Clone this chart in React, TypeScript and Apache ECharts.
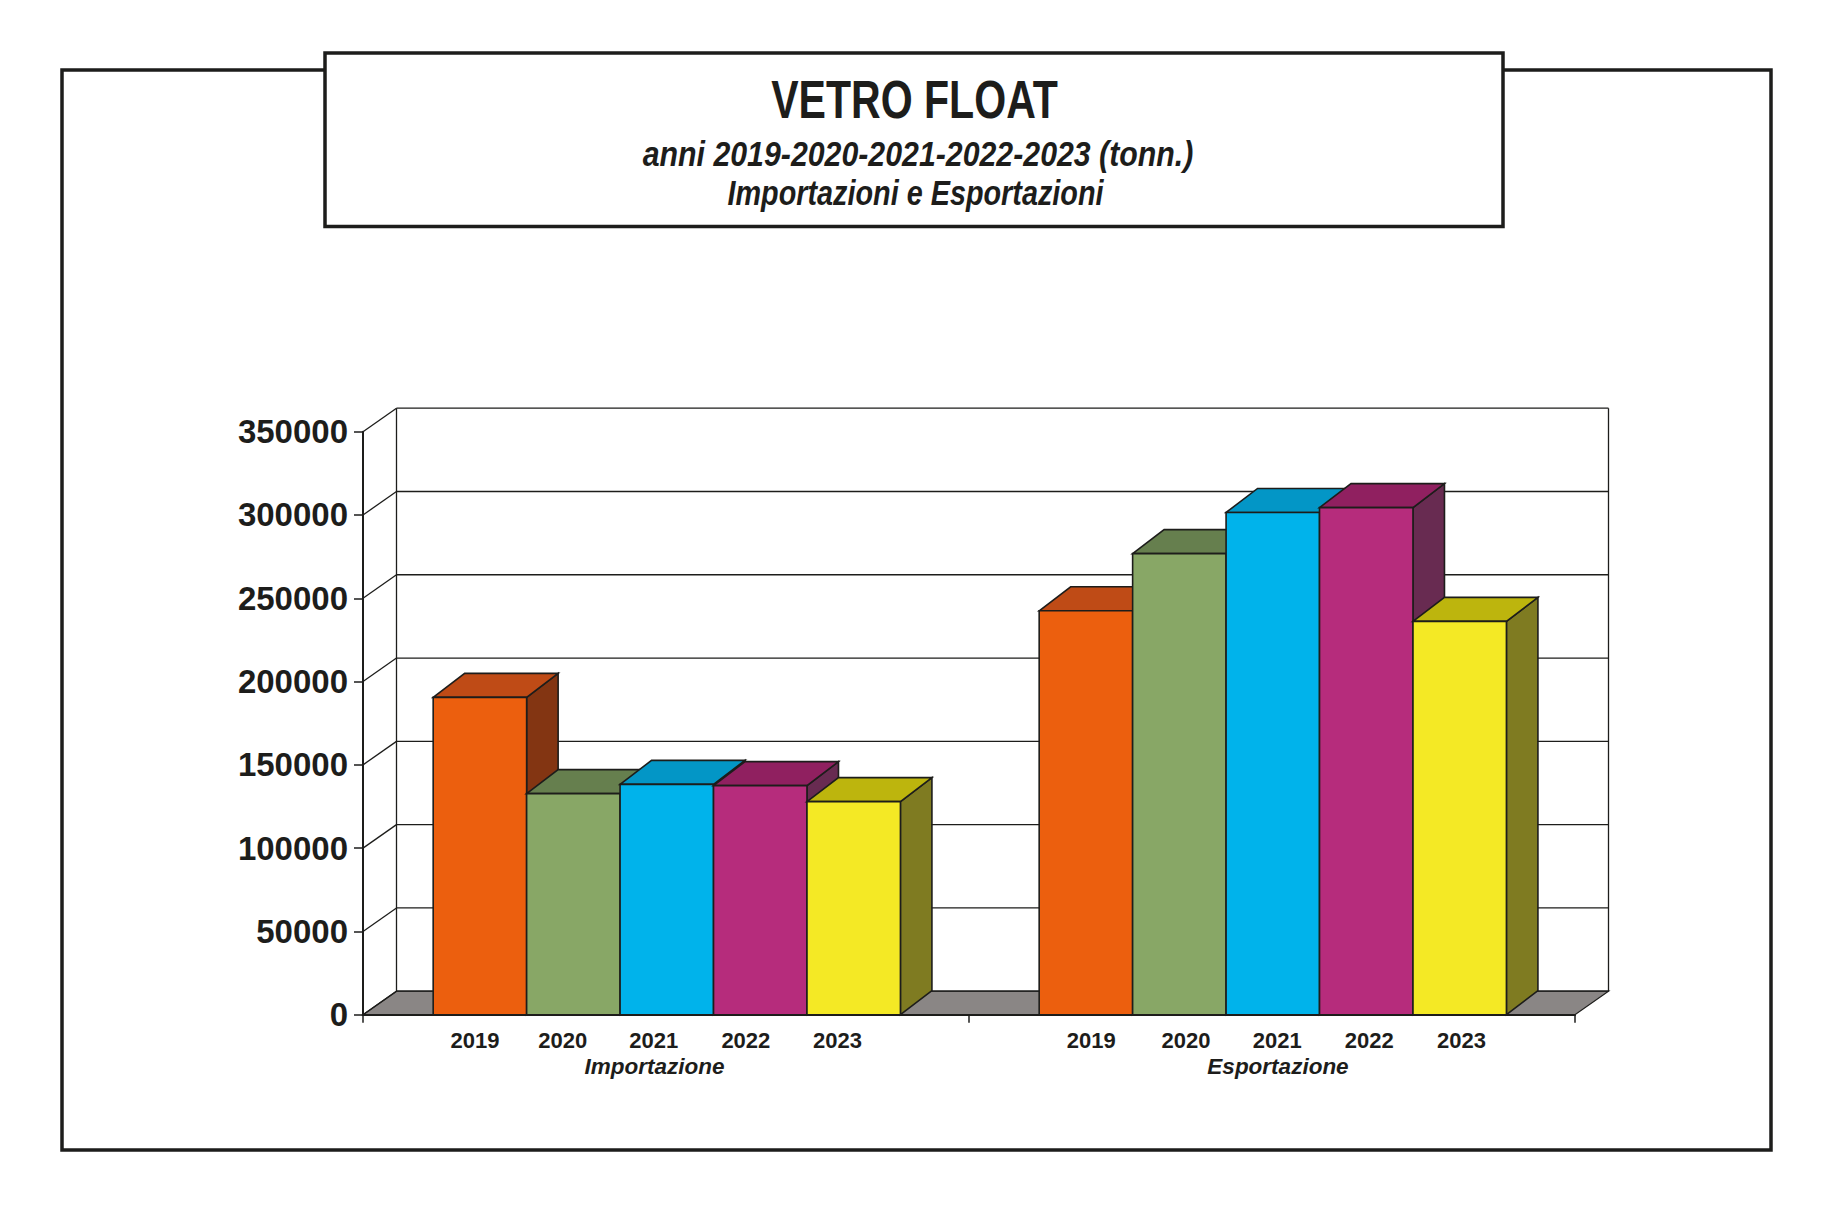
import React, { useEffect, useRef } from "react";
import * as echarts from "echarts";

const WIDTH = 1831;
const HEIGHT = 1226;

const titleText = "VETRO FLOAT";
const subtitleLines = ["anni 2019-2020-2021-2022-2023 (tonn.)", "Importazioni e Esportazioni"];

const groups = ["Importazione", "Esportazione"];
const years = ["2019", "2020", "2021", "2022", "2023"];
const yTicks = [0, 50000, 100000, 150000, 200000, 250000, 300000, 350000];

const importazione = [190500, 132700, 138300, 137500, 127900];
const esportazione = [242500, 276800, 301500, 304400, 236100];

const frontColors = ["#EC5F0E", "#88A766", "#00B3EB", "#B62C7C", "#F4E925"];
const topColors = ["#BF4B16", "#667F4E", "#0396C6", "#902060", "#BDB50D"];
const sideColors = ["#833512", "#55693F", "#0A6F90", "#682B51", "#7F7B21"];

const INK = "#1d1d1b";
const FONT = '"Liberation Sans", Arial, sans-serif';
const wallDepth = { x: 33.5, y: 23.5 };
const barDepth = { x: 31.5, y: 24 };
const barWidth = 93.45;
const barShift = 0.8;
const yearLabelShift = [
  [-5, -10.7, -13, -14.4, -16.3],
  [5.4, 6.7, 4.4, 3, 1.7],
];

function wallItem(params: any, api: any) {
  const cs = params.coordSys;
  const y = api.coord([0, api.value(1)])[1];
  const x0 = cs.x;
  const x1 = cs.x + cs.width;
  const line = (a: number, b: number, c: number, d: number, w = 1.3) => ({
    type: "line",
    shape: { x1: a, y1: b, x2: c, y2: d },
    style: { stroke: INK, lineWidth: w, fill: null },
  });
  const children: any[] = [];
  if (params.dataIndex === 0) {
    children.push({
      type: "polygon",
      shape: {
        points: [
          [x0, y],
          [x0 + wallDepth.x, y - wallDepth.y],
          [x1 + wallDepth.x, y - wallDepth.y],
          [x1, y],
        ],
      },
      style: { fill: "#8A8685", stroke: INK, lineWidth: 1.3 },
    });
    children.push(line(x0 + wallDepth.x, cs.y - wallDepth.y, x0 + wallDepth.x, y - wallDepth.y));
    children.push(line(x1 + wallDepth.x, cs.y - wallDepth.y, x1 + wallDepth.x, y - wallDepth.y));
  }
  children.push(line(x0, y, x0 + wallDepth.x, y - wallDepth.y));
  children.push(line(x0 + wallDepth.x, y - wallDepth.y, x1 + wallDepth.x, y - wallDepth.y));
  return { type: "group", children };
}

function barRenderer(yearIndex: number) {
  return (params: any, api: any) => {
    const groupIndex = api.value(0);
    const top = api.coord([groupIndex, api.value(1)]);
    const base = api.coord([groupIndex, 0]);
    const center = top[0] + barShift + (yearIndex - 2) * barWidth;
    const left = center - barWidth / 2;
    const right = center + barWidth / 2;
    const dx = barDepth.x;
    const dy = barDepth.y;
    const edge = { stroke: INK, lineWidth: 1.6, lineJoin: "miter" };
    return {
      type: "group",
      children: [
        {
          type: "polygon",
          shape: {
            points: [
              [right, top[1]],
              [right + dx, top[1] - dy],
              [right + dx, base[1] - dy],
              [right, base[1]],
            ],
          },
          style: { fill: sideColors[yearIndex], ...edge },
        },
        {
          type: "polygon",
          shape: {
            points: [
              [left, top[1]],
              [left + dx, top[1] - dy],
              [right + dx, top[1] - dy],
              [right, top[1]],
            ],
          },
          style: { fill: topColors[yearIndex], ...edge },
        },
        {
          type: "rect",
          shape: { x: left, y: top[1], width: barWidth, height: base[1] - top[1] },
          style: { fill: frontColors[yearIndex], ...edge },
        },
        {
          type: "text",
          x: center + yearLabelShift[groupIndex][yearIndex],
          y: base[1] + 25.5,
          style: {
            text: years[yearIndex],
            fill: INK,
            font: `bold 22px ${FONT}`,
            align: "center",
            verticalAlign: "middle",
          },
        },
      ],
    };
  };
}

function centeredText(text: string, x: number, y: number, font: string, scaleX: number) {
  return {
    type: "text",
    x,
    y,
    scaleX,
    z: 11,
    style: { text, fill: INK, font, align: "center", verticalAlign: "middle" },
  };
}

const groupLabelStyle = {
  fontFamily: FONT,
  fontStyle: "italic",
  fontWeight: "bold",
  fontSize: 22.5,
  color: INK,
};

export default function App() {
  const ref = useRef<HTMLDivElement | null>(null);

  useEffect(() => {
    const chart = echarts.init(ref.current!, null, { renderer: "svg" });
    chart.setOption({
      animation: false,
      backgroundColor: "#ffffff",
      grid: { left: 363, top: 431.7, width: 1212, height: 583, containLabel: false },
      xAxis: {
        type: "category",
        data: groups,
        boundaryGap: true,
        axisLine: { show: true, lineStyle: { color: INK, width: 2 } },
        axisTick: { show: true, length: 8, alignWithLabel: false, lineStyle: { color: INK, width: 1.5 } },
        axisLabel: {
          margin: 40,
          interval: 0,
          formatter: (v: string) => (v === groups[0] ? `{a|${v}}` : `{b|${v}}`),
          rich: {
            a: { ...groupLabelStyle, padding: [0, 23, 0, 0] },
            b: { ...groupLabelStyle, padding: [0, 0, 0, 12] },
          },
        },
        splitLine: { show: false },
      },
      yAxis: {
        type: "value",
        min: 0,
        max: 350000,
        interval: 50000,
        axisLine: { show: true, lineStyle: { color: INK, width: 2 } },
        axisTick: { show: true, length: 9, lineStyle: { color: INK, width: 1.5 } },
        axisLabel: {
          margin: 15,
          color: INK,
          fontFamily: FONT,
          fontWeight: "bold",
          fontSize: 33,
          formatter: (v: number) => String(v),
        },
        splitLine: { show: false },
      },
      series: [
        {
          type: "custom",
          name: "wall",
          z: 1,
          silent: true,
          renderItem: wallItem,
          encode: { x: 0, y: 1 },
          data: yTicks.map((t) => [0, t]),
        },
        ...years.map((year, i) => ({
          type: "custom",
          name: year,
          z: 2,
          renderItem: barRenderer(i),
          encode: { x: 0, y: 1 },
          data: [
            [0, importazione[i]],
            [1, esportazione[i]],
          ],
        })),
      ],
      graphic: {
        elements: [
          {
            type: "rect",
            z: 9,
            shape: { x: 62, y: 70, width: 1709, height: 1080 },
            style: { fill: null, stroke: INK, lineWidth: 3.5 },
          },
          {
            type: "rect",
            z: 10,
            shape: { x: 325, y: 53, width: 1178, height: 173.5 },
            style: { fill: "#ffffff", stroke: INK, lineWidth: 3.5 },
          },
          centeredText(titleText, 914.5, 100, `bold 53px ${FONT}`, 0.775),
          centeredText(subtitleLines[0], 918, 154, `italic bold 35px ${FONT}`, 0.866),
          centeredText(subtitleLines[1], 915.5, 193, `italic bold 35px ${FONT}`, 0.823),
        ],
      },
    });
    return () => chart.dispose();
  }, []);

  return (
    <div
      ref={ref}
      style={{ position: "absolute", left: 0, top: 0, width: WIDTH, height: HEIGHT }}
    />
  );
}
